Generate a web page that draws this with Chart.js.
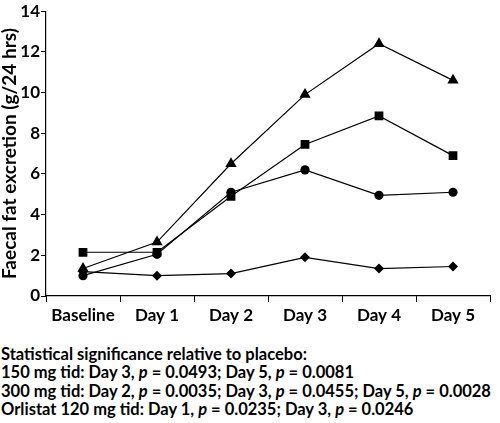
<!DOCTYPE html>
<html>
<head>
<meta charset="utf-8">
<script src="https://cdn.jsdelivr.net/npm/chart.js@4/dist/chart.umd.min.js"></script>
<style>
  html, body { margin: 0; padding: 0; background: #fff; }
  #wrap { position: relative; width: 500px; height: 423px; }
  #box { position: absolute; left: 0; top: 0; width: 500px; height: 330px; }
  #notes { position: absolute; left: 1px; top: 345px; font-family: Lato, "DejaVu Sans", sans-serif; font-weight: bold; font-size: 16.5px; line-height: 18.3px; color: #000; white-space: nowrap; }
</style>
</head>
<body>
<div id="wrap">
  <div id="box"><canvas id="c"></canvas></div>
  <div id="notes">
    Statistical significance relative to placebo:<br>
    150 mg tid: Day 3, <i>p</i> = 0.0493; Day 5, <i>p</i> = 0.0081<br>
    300 mg tid: Day 2, <i>p</i> = 0.0035; Day 3, <i>p</i> = 0.0455; Day 5, <i>p</i> = 0.0028<br>
    Orlistat 120 mg tid: Day 1, <i>p</i> = 0.0235; Day 3, <i>p</i> = 0.0246
  </div>
</div>
<script>
const categories = ["Baseline", "Day 1", "Day 2", "Day 3", "Day 4", "Day 5"];
const placebo   = [1.2, 1.0, 1.1, 1.9, 1.35, 1.45];
const mg150     = [1.0, 2.05, 5.1, 6.2, 4.95, 5.1];
const mg300     = [1.35, 2.65, 6.5, 9.9, 12.4, 10.6];
const orlistat  = [2.15, 2.15, 4.9, 7.45, 8.85, 6.9];
const yTicks    = [0, 2, 4, 6, 8, 10, 12, 14];
const yTitle    = "Faecal fat excretion (g/24 hrs)";

const FONT = "Lato, 'DejaVu Sans', sans-serif";
function ds(label, data, style, r) {
  return { label, data, pointStyle: style, pointRadius: r, pointHoverRadius: r,
    borderColor: "#000", backgroundColor: "#000", borderWidth: 1.2,
    pointBorderWidth: 0, tension: 0, fill: false };
}

new Chart(document.getElementById("c"), {
  type: "line",
  data: {
    labels: categories,
    datasets: [
      ds("300 mg tid", mg300, "triangle", 6.5),
      ds("Orlistat 120 mg tid", orlistat, "rect", 6.2),
      ds("150 mg tid", mg150, "circle", 4.6),
      ds("Placebo", placebo, "rectRot", 5)
    ]
  },
  options: {
    responsive: true,
    maintainAspectRatio: false,
    animation: false,
    layout: { padding: { top: 9, right: 10, left: 0, bottom: 0 } },
    plugins: { legend: { display: false }, tooltip: { enabled: false } },
    scales: {
      x: {
        type: "category",
        offset: true,
        grid: { display: true, drawOnChartArea: false, drawTicks: true, tickLength: 6, color: "#000", offset: true },
        border: { display: true, color: "#000", width: 1.2 },
        ticks: { color: "#000", font: { family: FONT, size: 17, weight: "bold" }, padding: 3, maxRotation: 0 },
        afterFit: s => { s.height = 34; }
      },
      y: {
        min: 0, max: 14,
        afterBuildTicks: s => { s.ticks = yTicks.map(v => ({ value: v })); },
        grid: { display: true, drawOnChartArea: false, drawTicks: true, tickLength: 5, color: "#000" },
        border: { display: true, color: "#000", width: 1.2 },
        ticks: { color: "#000", font: { family: FONT, size: 17, weight: "bold" }, padding: 1 },
        title: { display: true, text: yTitle, color: "#000", font: { family: FONT, size: 19, weight: "bold" }, padding: { top: -2, bottom: 0 } },
        afterFit: s => { s.width = 46; }
      }
    }
  }
});
</script>
</body>
</html>
